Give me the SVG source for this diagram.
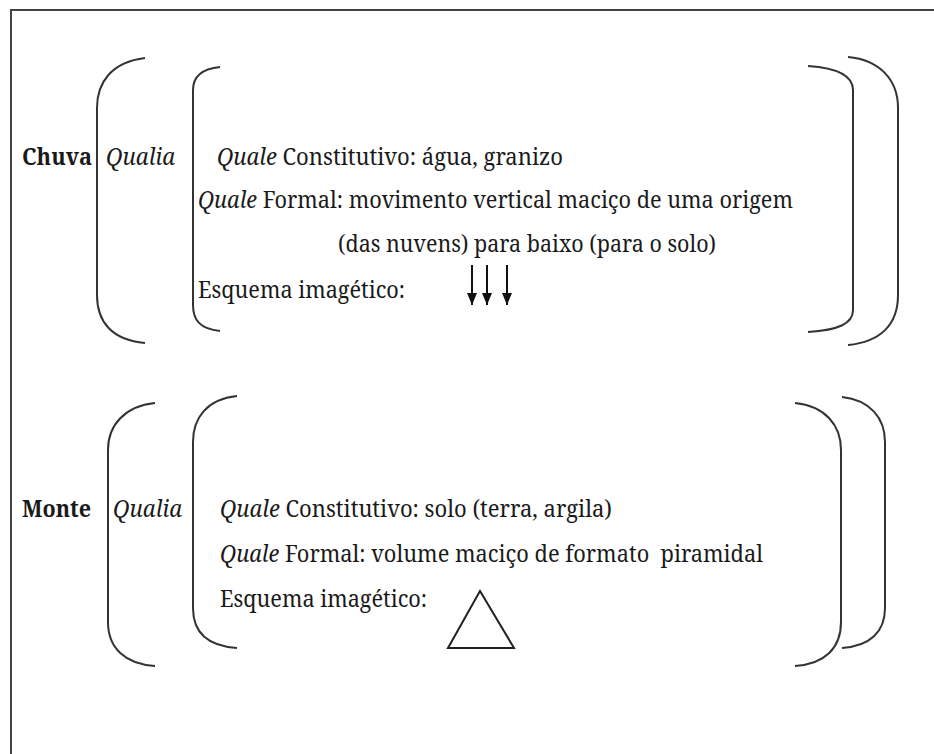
<svg xmlns="http://www.w3.org/2000/svg" width="934" height="754" viewBox="0 0 934 754">
<defs>
<style>
.t{font-family:'Noto Serif','DejaVu Serif',serif;font-size:23.5px;fill:#1a1a1a;white-space:pre}
.b{font-weight:bold}
.i{font-style:italic}
.br{fill:none;stroke:#333;stroke-width:2}
.ar{stroke:#111;stroke-width:2}
</style>
<marker id="ah" markerUnits="userSpaceOnUse" markerWidth="12" markerHeight="10" refX="12" refY="5" orient="auto" viewBox="0 0 12 10">
<path d="M0,0 L12,5 L0,10 Z" fill="#111"/>
</marker>
</defs>
<rect x="0" y="0" width="934" height="754" fill="#fff"/>
<rect x="11" y="10" width="1000" height="1000" fill="none" stroke="#444" stroke-width="2"/>

<g id="chuva">
<text class="t b" x="22" y="165" textLength="70" lengthAdjust="spacingAndGlyphs">Chuva</text>
<text class="t i" x="106" y="165" textLength="69" lengthAdjust="spacingAndGlyphs">Qualia</text>
<path class="br" d="M145,58 C112,62 97,82 97,108 L97,295 C97,322 112,340 145,343"/>
<path class="br" d="M220,67 C200,69 193,78 193,90 L193,305 C193,320 200,329 220,331"/>
<path class="br" d="M808,66 C838,68 853,76 853,90 L853,310 C853,324 838,330 808,332"/>
<path class="br" d="M848,57 C880,60 898,80 898,108 L898,295 C898,325 880,342 848,345"/>
<text class="t" x="217" y="165" textLength="346" lengthAdjust="spacingAndGlyphs"><tspan class="i">Quale</tspan> Constitutivo: água, granizo</text>
<text class="t" x="198" y="208" textLength="595" lengthAdjust="spacingAndGlyphs"><tspan class="i">Quale</tspan> Formal: movimento vertical maciço de uma origem</text>
<text class="t" x="338" y="252" textLength="378" lengthAdjust="spacingAndGlyphs">(das nuvens) para baixo (para o solo)</text>
<text class="t" x="198" y="298" textLength="207" lengthAdjust="spacingAndGlyphs">Esquema imagético:</text>
</g>

<g id="monte">
<text class="t b" x="22" y="517" textLength="69" lengthAdjust="spacingAndGlyphs">Monte</text>
<text class="t i" x="113" y="517" textLength="69" lengthAdjust="spacingAndGlyphs">Qualia</text>
<path class="br" d="M155,403 C125,406 108,425 108,450 L108,622 C108,648 125,664 155,666"/>
<path class="br" d="M237,396 C207,399 193,418 193,442 L193,608 C193,632 207,646 237,648"/>
<path class="br" d="M795,403 C825,406 841,425 841,450 L841,622 C841,648 825,664 795,666"/>
<path class="br" d="M842,397 C870,400 885,418 885,442 L885,608 C885,632 870,646 842,648"/>
<text class="t" x="220" y="517" textLength="392" lengthAdjust="spacingAndGlyphs"><tspan class="i">Quale</tspan> Constitutivo: solo (terra, argila)</text>
<text class="t" x="220" y="562" textLength="543" lengthAdjust="spacingAndGlyphs"><tspan class="i">Quale</tspan> Formal: volume maciço de formato  piramidal</text>
<text class="t" x="220" y="607" textLength="207" lengthAdjust="spacingAndGlyphs">Esquema imagético:</text>
<polygon points="480,591 448,648 514,648" fill="none" stroke="#222" stroke-width="2"/>
</g>

<g id="connectors">
<line class="ar" x1="472" y1="265" x2="472" y2="305" marker-end="url(#ah)"/>
<line class="ar" x1="487" y1="265" x2="487" y2="305" marker-end="url(#ah)"/>
<line class="ar" x1="507" y1="265" x2="507" y2="305" marker-end="url(#ah)"/>
</g>
</svg>
